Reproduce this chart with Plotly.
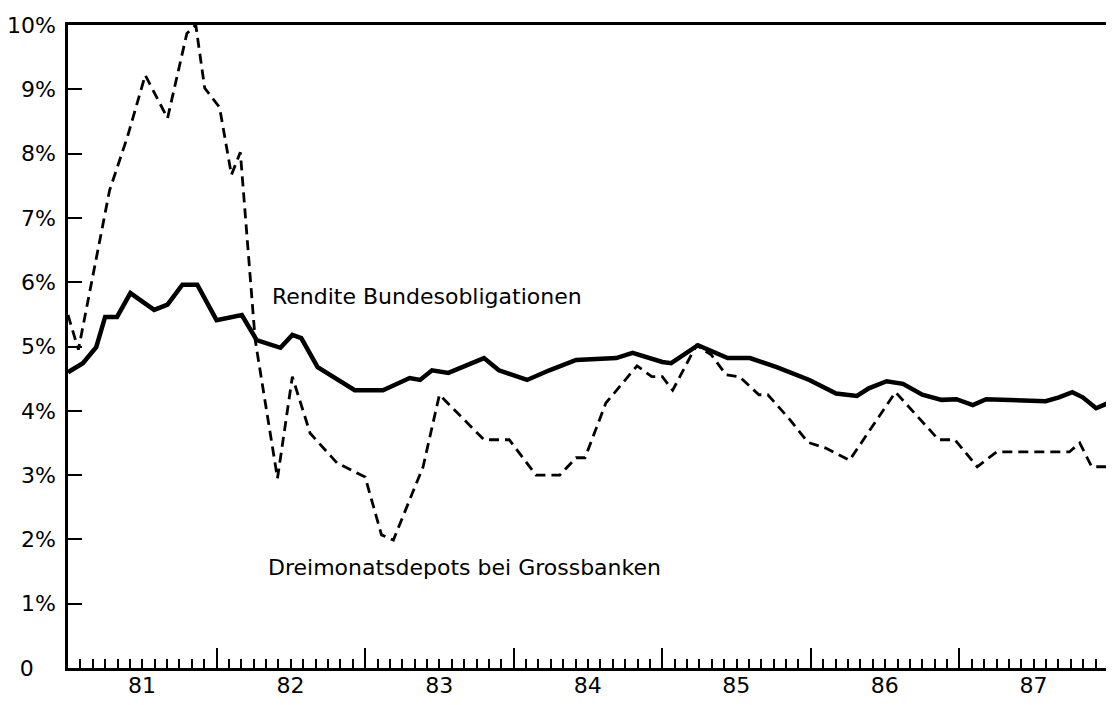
import plotly.graph_objects as go

# Rendite Bundesobligationen (solid), x in decimal years
rendite_x = [1981.00, 1981.10, 1981.19, 1981.25, 1981.33, 1981.42, 1981.58, 1981.67,
             1981.77, 1981.87, 1982.00, 1982.17, 1982.27, 1982.43, 1982.51, 1982.57,
             1982.68, 1982.93, 1983.12, 1983.30, 1983.37, 1983.45, 1983.56, 1983.80,
             1983.90, 1984.09, 1984.24, 1984.42, 1984.69, 1984.80, 1985.00, 1985.06,
             1985.24, 1985.44, 1985.59, 1985.77, 1985.99, 1986.17, 1986.31, 1986.39,
             1986.51, 1986.62, 1986.75, 1986.88, 1986.98, 1987.09, 1987.18, 1987.58,
             1987.67, 1987.76, 1987.83, 1987.92, 1988.00]
rendite_y = [4.60, 4.74, 4.99, 5.46, 5.46, 5.83, 5.57, 5.65,
             5.96, 5.96, 5.41, 5.49, 5.10, 4.98, 5.18, 5.13,
             4.68, 4.32, 4.32, 4.51, 4.48, 4.63, 4.59, 4.82,
             4.63, 4.48, 4.63, 4.79, 4.82, 4.90, 4.76, 4.74,
             5.02, 4.82, 4.82, 4.68, 4.48, 4.27, 4.23, 4.35,
             4.46, 4.42, 4.25, 4.17, 4.18, 4.09, 4.18, 4.15,
             4.21, 4.29, 4.21, 4.04, 4.12]

# Dreimonatsdepots bei Grossbanken (dashed)
depot_x = [1981.00, 1981.07, 1981.28, 1981.40, 1981.52, 1981.67, 1981.80, 1981.86,
           1981.92, 1982.02, 1982.10, 1982.16, 1982.26, 1982.41, 1982.51, 1982.63,
           1982.81, 1983.00, 1983.11, 1983.19, 1983.39, 1983.50, 1983.59, 1983.80,
           1983.97, 1984.15, 1984.31, 1984.42, 1984.48, 1984.62, 1984.83, 1984.93,
           1985.00, 1985.07, 1985.23, 1985.33, 1985.43, 1985.52, 1985.65, 1985.71,
           1985.86, 1985.98, 1986.10, 1986.26, 1986.57, 1986.86, 1986.97, 1987.12,
           1987.25, 1987.74, 1987.81, 1987.89, 1988.00]
depot_y = [5.49, 4.95, 7.43, 8.26, 9.22, 8.55, 9.87, 10.0,
           9.02, 8.72, 7.67, 8.02, 5.10, 2.95, 4.53, 3.65,
           3.19, 2.97, 2.07, 1.99, 3.13, 4.25, 4.04, 3.55,
           3.55, 3.00, 3.00, 3.27, 3.27, 4.12, 4.70, 4.53,
           4.53, 4.32, 5.02, 4.87, 4.56, 4.53, 4.25, 4.25,
           3.86, 3.51, 3.42, 3.23, 4.29, 3.55, 3.55, 3.13,
           3.36, 3.36, 3.50, 3.13, 3.13]

years = [1981, 1982, 1983, 1984, 1985, 1986, 1987, 1988]
year_labels = ["81", "82", "83", "84", "85", "86", "87", ""]
pct_ticks = [0, 1, 2, 3, 4, 5, 6, 7, 8, 9, 10]
pct_labels = ["0\u2002\u2002", "1%", "2%", "3%", "4%", "5%", "6%", "7%", "8%", "9%", "10%"]

font = "DejaVu Sans"

fig = go.Figure()
fig.add_trace(go.Scatter(x=depot_x, y=depot_y, mode="lines",
                         line=dict(color="black", width=2.8, dash="10px,6px")))
fig.add_trace(go.Scatter(x=rendite_x, y=rendite_y, mode="lines",
                         line=dict(color="black", width=4.5)))

fig.add_annotation(x=1982.36, y=5.77, text="Rendite Bundesobligationen", showarrow=False,
                   xanchor="left", font=dict(family=font, size=22, color="black"))
fig.add_annotation(x=1982.33, y=1.56, text="Dreimonatsdepots bei Grossbanken", showarrow=False,
                   xanchor="left", font=dict(family=font, size=22, color="black"))

# the page body has an 8px margin, so the margins are offset by it
fig.update_layout(
    width=1114, height=705,
    margin=dict(l=60, r=14, t=17, b=45),
    paper_bgcolor="white", plot_bgcolor="white",
    showlegend=False,
    xaxis=dict(range=[1981, 1988], tickvals=years, ticktext=year_labels,
               ticks="inside", ticklen=20, tickwidth=2, tickcolor="black",
               ticklabelshift=74, ticklabelstandoff=-4,
               tickfont=dict(family=font, size=22, color="black"),
               showgrid=False, zeroline=False, showline=True, linewidth=2.5,
               linecolor="black", mirror=True, automargin=False,
               minor=dict(tick0=1981, dtick=1 / 12, ticks="inside", ticklen=9,
                          tickwidth=1.5, tickcolor="black", showgrid=False)),
    yaxis=dict(range=[0, 10], tickvals=pct_ticks, ticktext=pct_labels,
               ticks="inside", ticklen=14, tickwidth=2, tickcolor="black",
               tickfont=dict(family=font, size=22, color="black"),
               ticklabelstandoff=5, automargin=False,
               showgrid=False, zeroline=False, showline=True, linewidth=2.5,
               linecolor="black", mirror=True),
)

fig.write_html("out.html")
